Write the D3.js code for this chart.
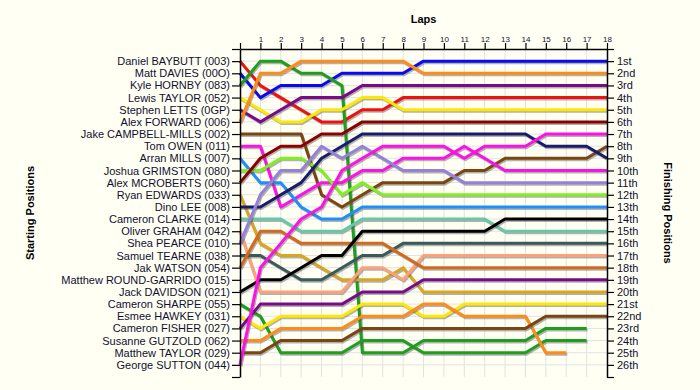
<!DOCTYPE html>
<html><head><meta charset="utf-8">
<script src="https://cdn.jsdelivr.net/npm/d3@7/dist/d3.min.js"></script>
<style>
html,body{margin:0;padding:0;background:#FFFFF4;}
svg{display:block;font-family:"Liberation Sans",Arial,sans-serif;}
</style></head><body>
<svg id="chart" width="700" height="390"></svg>
<script>
// ---- data ----
const lapNumbers = d3.range(0, 19);
const starters = [
  "Daniel BAYBUTT (003)", "Matt DAVIES (00O)", "Kyle HORNBY (083)", "Lewis TAYLOR (052)",
  "Stephen LETTS (0GP)", "Alex FORWARD (006)", "Jake CAMPBELL-MILLS (002)", "Tom OWEN (011)",
  "Arran MILLS (007)", "Joshua GRIMSTON (080)", "Alex MCROBERTS (060)", "Ryan EDWARDS (033)",
  "Dino LEE (008)", "Cameron CLARKE (014)", "Oliver GRAHAM (042)", "Shea PEARCE (010)",
  "Samuel TEARNE (038)", "Jak WATSON (054)", "Matthew ROUND-GARRIDO (015)", "Jack DAVIDSON (021)",
  "Cameron SHARPE (055)", "Esmee HAWKEY (031)", "Cameron FISHER (027)", "Susanne GUTZOLD (062)",
  "Matthew TAYLOR (029)", "George SUTTON (044)"
];
const finishLabels = ["1st","2nd","3rd","4th","5th","6th","7th","8th","9th","10th","11th","12th","13th",
  "14th","15th","16th","17th","18th","19th","20th","21st","22nd","23rd","24th","25th","26th"];
const lineColors = ["#F01010","#0A0AF0","#1E9E1E","#FFE800","#7A0A8A","#FF8C1A","#7A4511","#FF10E8",
  "#1E8FFF","#80F020","#8B0000","#DAA520","#1A1A6E","#66C8A8","#FFA07A","#9580DC",
  "#3A5A5A","#D2691E","#999999","#000000","#1E9E1E","#FFE800","#7A0A8A","#FF8C1A","#7A4511","#FF10E8"];

// position at each lap (lap 0 = grid), one array per starter
const pBAYBUTT   = [1,3,4,5,6,6,5,5,4,4,4,4,4,4,4,4,4,4,4];
const pDAVIES    = [2,4,3,3,3,2,2,2,2,1,1,1,1,1,1,1,1,1,1];
const pHORNBY    = [3,1,1,2,2,3,25,25,25,24,24,24,24,24,24,23,23,23];
const pLTAYLOR   = [4,5,6,6,5,5,4,4,5,5,5,5,5,5,5,5,5,5,5];
const pLETTS     = [5,6,5,4,4,4,3,3,3,3,3,3,3,3,3,3,3,3,3];
const pFORWARD   = [6,2,2,1,1,1,1,1,1,2,2,2,2,2,2,2,2,2,2];
const pCAMPBELL  = [7,7,7,7,12,13,12,11,11,11,11,10,10,9,9,9,9,9,8];
const pOWEN      = [8,8,13,12,11,11,10,10,9,9,9,8,9,10,10,10,10,10,10];
const pMILLS     = [9,11,11,13,14,14,13,13,13,13,13,13,13,13,13,13,13,13,13];
const pGRIMSTON  = [10,10,9,9,10,12,11,12,12,12,12,12,12,12,12,12,12,12,12];
const pMCROBERTS = [11,9,8,8,7,7,6,6,6,6,6,6,6,6,6,6,6,6,6];
const pEDWARDS   = [12,16,17,17,18,19,19,19,18,20,20,20,20,20,20,20,20,20,20];
const pLEE       = [13,13,12,11,9,8,7,7,7,7,7,7,7,7,7,8,8,8,9];
const pCLARKE    = [14,14,14,15,15,15,14,14,14,14,14,14,14,15,15,15,15,15,15];
const pGRAHAM    = [15,20,20,20,20,20,18,18,19,17,17,17,17,17,17,17,17,17,17];
const pPEARCE    = [16,12,10,10,8,9,8,9,10,10,10,11,11,11,11,11,11,11,11];
const pTEARNE    = [17,17,18,19,19,18,17,17,16,16,16,16,16,16,16,16,16,16,16];
const pWATSON    = [18,15,15,16,16,16,16,16,17,18,18,18,18,18,18,18,18,18,18];
const pROUND     = [];
const pDAVIDSON  = [20,19,19,18,17,17,15,15,15,15,15,15,15,14,14,14,14,14,14];
const pSHARPE    = [21,22,25,25,25,25,24,24,24,25,25,25,25,25,25,24,24,24];
const pHAWKEY    = [22,23,22,22,22,22,21,21,21,22,22,21,21,21,21,21,21,21,21];
const pFISHER    = [23,21,21,21,21,21,20,20,20,19,19,19,19,19,19,19,19,19,19];
const pGUTZOLD   = [24,24,23,23,23,23,22,22,22,21,21,22,22,22,22,25,25];
const pMTAYLOR   = [25,25,24,24,24,24,23,23,23,23,23,23,23,23,23,22,22,22,22];
const pSUTTON    = [26,18,16,14,13,10,9,8,8,8,8,9,8,8,8,7,7,7,7];

const positions = [pBAYBUTT,pDAVIES,pHORNBY,pLTAYLOR,pLETTS,pFORWARD,pCAMPBELL,pOWEN,pMILLS,
  pGRIMSTON,pMCROBERTS,pEDWARDS,pLEE,pCLARKE,pGRAHAM,pPEARCE,pTEARNE,pWATSON,pROUND,pDAVIDSON,
  pSHARPE,pHAWKEY,pFISHER,pGUTZOLD,pMTAYLOR,pSUTTON];

// ---- chart ----
const svg = d3.select("#chart");
const x = d3.scaleLinear().domain([0, 18]).range([240, 607]);
const y = d3.scaleLinear().domain([0, 27]).range([49, 377]);

// grid
const grid = svg.append("g").attr("stroke", "#E2E2E2").attr("stroke-width", 1);
grid.selectAll(".gv").data(d3.range(1, 18)).join("line")
  .attr("x1", d => x(d)).attr("x2", d => x(d)).attr("y1", y(0)).attr("y2", y(27));
grid.selectAll(".gh").data(d3.range(1, 27)).join("line")
  .attr("x1", x(0)).attr("x2", x(18)).attr("y1", d => y(d)).attr("y2", d => y(d));

const series = positions.map((p, i) => ({ name: starters[i], color: lineColors[i], values: p }))
  .filter(s => s.values.length > 1);

const line = d3.line().x((d, i) => x(i)).y(d => y(d));

const lg = svg.append("g");
series.forEach(s => {
  lg.append("path").datum(s.values).attr("d", line)
    .attr("fill", "none").attr("stroke", "#555").attr("stroke-opacity", 0.45)
    .attr("stroke-width", 3).attr("stroke-linejoin", "round")
    .attr("transform", "translate(1,1.5)");
  lg.append("path").datum(s.values).attr("d", line)
    .attr("fill", "none").attr("stroke", s.color)
    .attr("stroke-width", 3).attr("stroke-linejoin", "round");
});

// axes
function styleAxis(g, fs) {
  g.select(".domain").attr("stroke", "#000").attr("stroke-width", 1.5);
  g.selectAll(".tick line").attr("stroke", "#000").attr("stroke-width", 1.2);
  g.selectAll(".tick text").attr("fill", "#101030").style("font-size", fs + "px")
    .style("font-family", '"Liberation Sans",Arial,sans-serif');
}
const topAxis = svg.append("g").attr("transform", `translate(0,${y(0)})`)
  .call(d3.axisTop(x).tickValues(lapNumbers).tickFormat(d => d === 0 ? "" : d)
    .tickSize(6).tickSizeOuter(0).tickPadding(1));
styleAxis(topAxis, 8);

const leftAxis = svg.append("g").attr("transform", `translate(${x(0)},0)`)
  .call(d3.axisLeft(y).tickValues(d3.range(0, 28)).tickFormat(d => starters[d - 1] || "")
    .tickSize(8).tickSizeOuter(0).tickPadding(2));
styleAxis(leftAxis, 11);

const rightAxis = svg.append("g").attr("transform", `translate(${x(18)},0)`)
  .call(d3.axisRight(y).tickValues(d3.range(0, 28)).tickFormat(d => finishLabels[d - 1] || "")
    .tickSize(7).tickSizeOuter(0).tickPadding(3));
styleAxis(rightAxis, 11);

// titles
svg.append("text").attr("x", (x(0) + x(18)) / 2).attr("y", 23).attr("text-anchor", "middle")
  .style("font-size", "11px").style("font-weight", "bold").attr("fill", "#000").text("Laps");
svg.append("text").attr("transform", `translate(34,${(y(0) + y(27)) / 2}) rotate(-90)`)
  .attr("text-anchor", "middle").style("font-size", "11px").style("font-weight", "bold")
  .attr("fill", "#000").text("Starting Positions");
svg.append("text").attr("transform", `translate(664,${(y(0) + y(27)) / 2}) rotate(90)`)
  .attr("text-anchor", "middle").style("font-size", "11px").style("font-weight", "bold")
  .attr("fill", "#000").text("Finishing Positions");
</script>
</body></html>
